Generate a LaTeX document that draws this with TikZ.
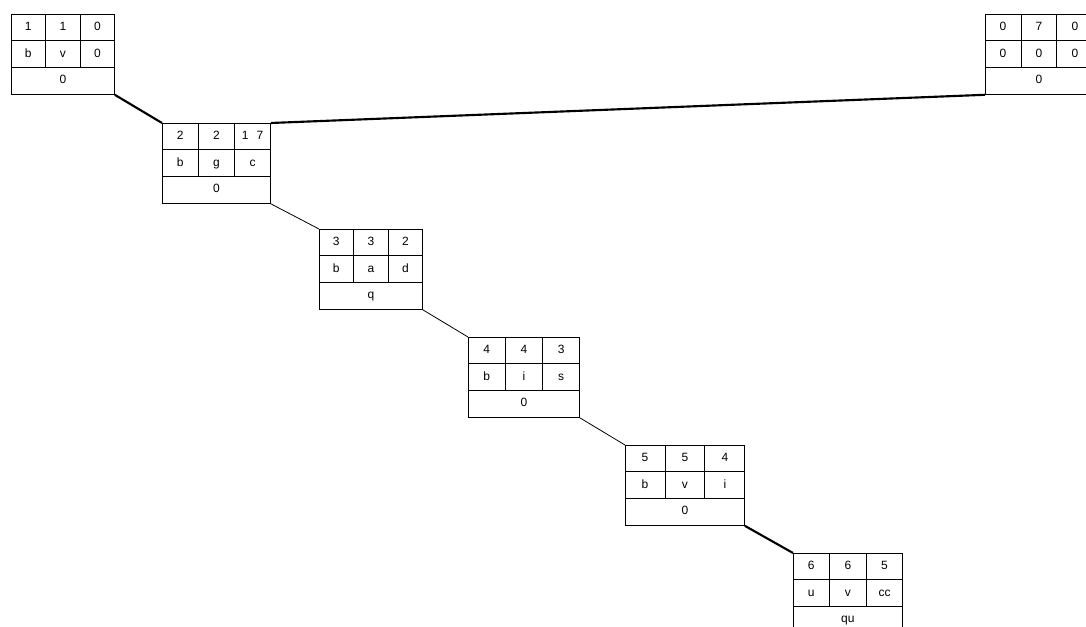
\documentclass[tikz,border=0pt]{standalone}
\usepackage{fontspec}
\setmainfont{Liberation Sans}
\usetikzlibrary{calc}
\tikzset{
  rec/.style ={rectangle, draw, line width=0.6pt, inner sep=0pt, minimum height=60pt},
  cell/.style={font=\fontsize{9}{10}\selectfont, inner sep=0pt, text height=6.5pt, text depth=1.8pt},
  lnk/.style ={line width=0.6pt},
  lnkb/.style={line width=1.6pt},
}
% name, north west corner (px), width (px), top row, middle row, bottom cell
\newcommand{\recbox}[6]{%
  \node[rec, anchor=north west, minimum width={#3*0.75pt}] (#1) at (#2) {};
  \draw[line width=0.6pt] ($(#1.north west)+(0,-20pt)$) -- ($(#1.north east)+(0,-20pt)$);
  \draw[line width=0.6pt] ($(#1.north west)+(0,-40pt)$) -- ($(#1.north east)+(0,-40pt)$);
  \draw[line width=0.6pt] ($(#1.north west)!1/3!(#1.north east)$) -- ++(0,-40pt);
  \draw[line width=0.6pt] ($(#1.north west)!2/3!(#1.north east)$) -- ++(0,-40pt);
  \foreach \t [count=\i] in {#4}
    \node[cell] at ($(#1.north west)!{(\i-0.5)/3}!(#1.north east)+(0,-10pt)$) {\t};
  \foreach \t [count=\i] in {#5}
    \node[cell] at ($(#1.north west)!{(\i-0.5)/3}!(#1.north east)+(0,-30pt)$) {\t};
  \node[cell] (#1-bot) at ($(#1.north)+(0,-50pt)$) {#6};
}

\begin{document}
\begin{tikzpicture}[x=0.75pt, y=-0.75pt]
  \useasboundingbox[fill=white] (0,0) rectangle (1086,627);
  \recbox{r1}{11,14}{103}{1,1,0}{b,v,0}{0}
  \recbox{r2}{162,123}{108}{2,2,1\hspace{6pt}7}{b,g,c}{0}
  \recbox{r3}{319,229}{103}{3,3,2}{b,a,d}{q}
  \recbox{r4}{468,337}{111}{4,4,3}{b,i,s}{0}
  \recbox{r5}{625,445}{119}{5,5,4}{b,v,i}{0}
  \recbox{r6}{793,553}{109}{6,6,5}{u,v,cc}{qu}
  \recbox{r7}{985,14}{107}{0,7,0}{0,0,0}{0}
  \draw[lnkb] (r1.south east) -- (r2.north west);
  \draw[lnkb] (r2.north east) -- (r7.south west);
  \draw[lnk] (r2.south east) -- (r3.north west);
  \draw[lnk] (r3.south east) -- (r4.north west);
  \draw[lnk] (r4.south east) -- (r5.north west);
  \draw[lnkb] (r5.south east) -- (r6.north west);
\end{tikzpicture}
\end{document}
